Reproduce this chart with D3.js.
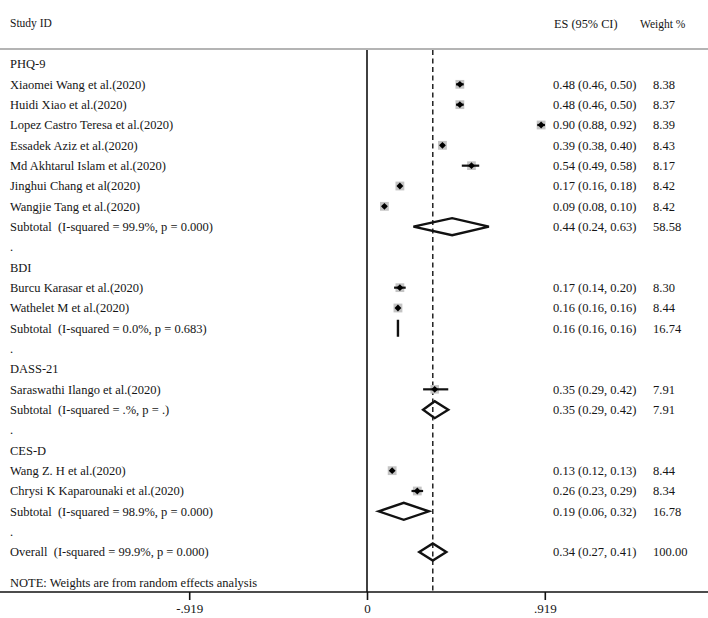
<!DOCTYPE html>
<html>
<head>
<meta charset="utf-8">
<script src="https://cdn.jsdelivr.net/npm/d3@7"></script>
<style>
  html, body { margin: 0; padding: 0; background: #fff; }
  svg text { font-family: "Liberation Serif", "Times New Roman", serif; fill: #151515; white-space: pre; }
</style>
</head>
<body>
<svg id="chart" width="708" height="618"></svg>
<script>
// ---- data ----
const rowLabels = [
  "PHQ-9",
  "Xiaomei Wang et al.(2020)",
  "Huidi Xiao et al.(2020)",
  "Lopez Castro Teresa et al.(2020)",
  "Essadek Aziz et al.(2020)",
  "Md Akhtarul Islam et al.(2020)",
  "Jinghui Chang et al(2020)",
  "Wangjie Tang et al.(2020)",
  "Subtotal  (I-squared = 99.9%, p = 0.000)",
  ".",
  "BDI",
  "Burcu Karasar et al.(2020)",
  "Wathelet M et al.(2020)",
  "Subtotal  (I-squared = 0.0%, p = 0.683)",
  ".",
  "DASS-21",
  "Saraswathi Ilango et al.(2020)",
  "Subtotal  (I-squared = .%, p = .)",
  ".",
  "CES-D",
  "Wang Z. H et al.(2020)",
  "Chrysi K Kaparounaki et al.(2020)",
  "Subtotal  (I-squared = 98.9%, p = 0.000)",
  ".",
  "Overall  (I-squared = 99.9%, p = 0.000)"
];
// row type: h = heading, s = study, d = diamond (pooled), b = blank
const rowTypes = ["h","s","s","s","s","s","s","s","d","b","h","s","s","d","b","h","s","d","b","h","s","s","d","b","d"];
const esValues = [null,0.48,0.48,0.90,0.39,0.54,0.17,0.09,0.44,null,null,0.17,0.16,0.16,null,null,0.35,0.35,null,null,0.13,0.26,0.19,null,0.34];
const ciLow    = [null,0.46,0.46,0.88,0.38,0.49,0.16,0.08,0.24,null,null,0.14,0.16,0.16,null,null,0.29,0.29,null,null,0.12,0.23,0.06,null,0.27];
const ciHigh   = [null,0.50,0.50,0.92,0.40,0.58,0.18,0.10,0.63,null,null,0.20,0.16,0.16,null,null,0.42,0.42,null,null,0.13,0.29,0.32,null,0.41];
const weights  = [null,8.38,8.37,8.39,8.43,8.17,8.42,8.42,58.58,null,null,8.30,8.44,16.74,null,null,7.91,7.91,null,null,8.44,8.34,16.78,null,100.00];
const esLabels = [null,"0.48 (0.46, 0.50)","0.48 (0.46, 0.50)","0.90 (0.88, 0.92)","0.39 (0.38, 0.40)","0.54 (0.49, 0.58)","0.17 (0.16, 0.18)","0.09 (0.08, 0.10)","0.44 (0.24, 0.63)",null,null,"0.17 (0.14, 0.20)","0.16 (0.16, 0.16)","0.16 (0.16, 0.16)",null,null,"0.35 (0.29, 0.42)","0.35 (0.29, 0.42)",null,null,"0.13 (0.12, 0.13)","0.26 (0.23, 0.29)","0.19 (0.06, 0.32)",null,"0.34 (0.27, 0.41)"];
const weightLabels = [null,"8.38","8.37","8.39","8.43","8.17","8.42","8.42","58.58",null,null,"8.30","8.44","16.74",null,null,"7.91","7.91",null,null,"8.44","8.34","16.78",null,"100.00"];
const overallES = 0.34;
const tickValues = [-0.919, 0, 0.919];
const tickLabels = ["-.919", "0", ".919"];
const headerLabels = ["Study ID", "ES (95% CI)", "Weight %"];
const noteText = "NOTE: Weights are from random effects analysis";

// ---- layout ----
const W = 708, H = 618;
const svg = d3.select("#chart");
const x = d3.scaleLinear().domain([-0.919, 0.919]).range([189.2, 544.8]);
const y = d3.scaleLinear().domain([0, 24]).range([64, 552]);
const boxSize = d3.scaleSqrt().domain([0, 8.4]).range([0, 8.8]);
const topY = 49, axisY = 592;
const esX = 553, wX = 653;

const rows = rowLabels.map((label, i) => ({
  label, type: rowTypes[i], es: esValues[i], lo: ciLow[i], hi: ciHigh[i],
  w: weights[i], esLabel: esLabels[i], wLabel: weightLabels[i], i
}));

// header
svg.append("text").attr("x", 10).attr("y", 23).attr("dy", "0.35em")
  .style("font-size", "11.5px").text(headerLabels[0]);
svg.append("text").attr("x", 554).attr("y", 24).attr("dy", "0.35em")
  .style("font-size", "12.3px").text(headerLabels[1]);
svg.append("text").attr("x", 640).attr("y", 24).attr("dy", "0.35em")
  .style("font-size", "11.5px").text(headerLabels[2]);
svg.append("line").attr("x1", 0).attr("x2", W).attr("y1", topY).attr("y2", topY)
  .attr("stroke", "#b4b4b4").attr("stroke-width", 2);

// reference lines
svg.append("line").attr("x1", x(0)).attr("x2", x(0)).attr("y1", topY + 1).attr("y2", axisY)
  .attr("stroke", "#111").attr("stroke-width", 1.6);
svg.append("line").attr("x1", x(overallES)).attr("x2", x(overallES)).attr("y1", topY + 1).attr("y2", axisY)
  .attr("stroke", "#222").attr("stroke-width", 1.5).attr("stroke-dasharray", "5,3.5");

// axis
const axis = d3.axisBottom(x).tickValues(tickValues)
  .tickFormat((d, i) => tickLabels[i]).tickSize(8).tickSizeOuter(0);
const gAxis = svg.append("g").attr("transform", `translate(0,${axisY})`).call(axis);
gAxis.select(".domain").remove();
gAxis.selectAll(".tick line").attr("stroke", "#111").attr("stroke-width", 1.6);
gAxis.selectAll(".tick text").attr("y", 12).attr("dy", "0.71em")
  .style("font-size", "13px").style("font-family", "Liberation Serif, serif").attr("fill", "#151515");
svg.append("line").attr("x1", 0).attr("x2", W).attr("y1", axisY).attr("y2", axisY)
  .attr("stroke", "#111").attr("stroke-width", 1.6);

// left labels
svg.append("g").selectAll("text").data(rows).join("text")
  .attr("x", 10).attr("y", d => y(d.i)).attr("dy", "0.35em")
  .style("font-size", "12.5px").text(d => d.label);

// right columns
const valued = rows.filter(d => d.esLabel);
svg.append("g").selectAll("text").data(valued).join("text")
  .attr("x", esX).attr("y", d => y(d.i)).attr("dy", "0.35em")
  .style("font-size", "12.5px").text(d => d.esLabel);
svg.append("g").selectAll("text").data(valued).join("text")
  .attr("x", wX).attr("y", d => y(d.i)).attr("dy", "0.35em")
  .style("font-size", "12.5px").text(d => d.wLabel);

// studies
const studies = rows.filter(d => d.type === "s");
const gS = svg.append("g");
gS.selectAll("rect").data(studies).join("rect")
  .attr("x", d => x(d.es) - boxSize(d.w) / 2)
  .attr("y", d => y(d.i) - boxSize(d.w) / 2)
  .attr("width", d => boxSize(d.w)).attr("height", d => boxSize(d.w))
  .attr("fill", "#c4c4c4");
gS.selectAll("line").data(studies).join("line")
  .attr("x1", d => x(d.lo)).attr("x2", d => x(d.hi))
  .attr("y1", d => y(d.i)).attr("y2", d => y(d.i))
  .attr("stroke", "#111").attr("stroke-width", 2.2);
gS.selectAll("path").data(studies).join("path")
  .attr("d", d => {
    const cx = x(d.es), cy = y(d.i), r = 3.4;
    return `M${cx - r},${cy}L${cx},${cy - r}L${cx + r},${cy}L${cx},${cy + r}Z`;
  })
  .attr("fill", "#000");

// pooled diamonds
const pooled = rows.filter(d => d.type === "d");
svg.append("g").selectAll("path").data(pooled).join("path")
  .attr("d", d => {
    const cy = y(d.i), h = 8.5;
    return `M${x(d.lo)},${cy}L${x(d.es)},${cy - h}L${x(d.hi)},${cy}L${x(d.es)},${cy + h}Z`;
  })
  .attr("fill", "none").attr("stroke", "#111").attr("stroke-width", 2.4)
  .attr("stroke-linejoin", "miter");

// note
svg.append("text").attr("x", 10).attr("y", y(25.5)).attr("dy", "0.35em")
  .style("font-size", "12.5px").text(noteText);
</script>
</body>
</html>
